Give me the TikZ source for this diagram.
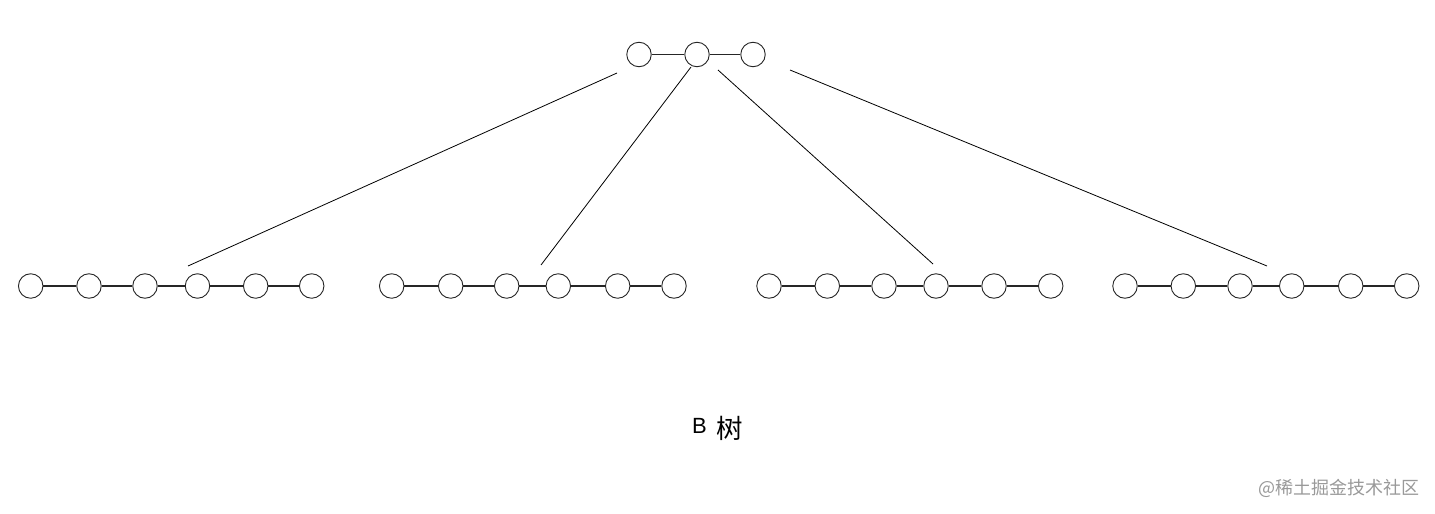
\documentclass[tikz,border=0pt]{standalone}
\usepackage{fontspec}
\setmainfont{Liberation Sans}
\newfontfamily\cjk{Noto Sans CJK SC}
\begin{document}
\begin{tikzpicture}[x=1pt,y=-1pt,
  keynode/.style={circle,draw=black!85,line width=0.9pt,fill=white,minimum size=24.5pt,inner sep=0pt},
  link/.style={line width=1.1pt,black!85},
  branch/.style={line width=0.8pt,black}]
\useasboundingbox (0,0) rectangle (1435,514);
% root
\node[keynode] (r1) at (639,54.5) {};
\node[keynode] (r2) at (697,54.5) {};
\node[keynode] (r3) at (753,54.5) {};
\draw[link] (r1) -- (r2);
\draw[link] (r2) -- (r3);
% leaves
\foreach \g/\xa/\xb/\xc/\xd/\xe/\xf in {a/30.7/89/145/197.5/255.7/311.7, b/391.7/450.7/506.7/558.3/617.7/674, c/769/827.3/884/936/994/1050.7, d/1125/1183.3/1240/1291.7/1350.7/1406.7}{
  \node[keynode] (\g1) at (\xa,286) {};
  \node[keynode] (\g2) at (\xb,286) {};
  \node[keynode] (\g3) at (\xc,286) {};
  \node[keynode] (\g4) at (\xd,286) {};
  \node[keynode] (\g5) at (\xe,286) {};
  \node[keynode] (\g6) at (\xf,286) {};
  \draw[link] (\g1) -- (\g2);
  \draw[link] (\g2) -- (\g3);
  \draw[link] (\g3) -- (\g4);
  \draw[link] (\g4) -- (\g5);
  \draw[link] (\g5) -- (\g6);
}
% branch lines (free ends)
\coordinate (s1) at (617,73);  \coordinate (e1) at (188,266);
\coordinate (s2) at (691,67);  \coordinate (e2) at (541,265);
\coordinate (s3) at (718,70);  \coordinate (e3) at (933,264);
\coordinate (s4) at (790,70);  \coordinate (e4) at (1267,266);
\draw[branch] (s1) -- (e1);
\draw[branch] (s2) -- (e2);
\draw[branch] (s3) -- (e3);
\draw[branch] (s4) -- (e4);
% caption
\node[font=\fontsize{22}{26}\selectfont,anchor=base,inner sep=0pt] (capb) at (699.5,433.5) {B};
\node[font=\cjk\fontsize{26.5}{30}\selectfont,inner sep=0pt] (capc) at (729.5,428) {树};
\node[font=\cjk\fontsize{18}{21}\selectfont,text=black!40,anchor=east,inner sep=0pt] (wm) at (1420,488) {@稀土掘金技术社区};
\end{tikzpicture}
\end{document}
